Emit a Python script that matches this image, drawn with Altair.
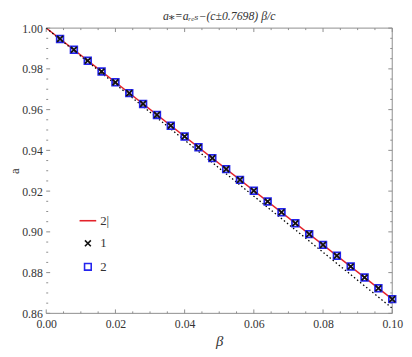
import altair as alt
import pandas as pd

# ---- data ----
beta_pts = [0.004, 0.008, 0.012, 0.016, 0.020, 0.024, 0.028, 0.032, 0.036, 0.040,
            0.044, 0.048, 0.052, 0.056, 0.060, 0.064, 0.068, 0.072, 0.076, 0.080,
            0.084, 0.088, 0.092, 0.096, 0.100]
a_pts = [0.9947, 0.9894, 0.9840, 0.9787, 0.9734, 0.9681, 0.9628, 0.9574, 0.9521, 0.9468,
         0.9415, 0.9362, 0.9308, 0.9255, 0.9202, 0.9149, 0.9096, 0.9042, 0.8989, 0.8936,
         0.8883, 0.8830, 0.8776, 0.8723, 0.8670]
beta_line = [0.0, 0.1]
a_red = [1.0, 0.867]
a_dot = [1.0, 0.8625]

x_major = [0.0, 0.02, 0.04, 0.06, 0.08, 0.10]
x_minor = [0.005, 0.01, 0.015, 0.025, 0.03, 0.035, 0.045, 0.05, 0.055,
           0.065, 0.07, 0.075, 0.085, 0.09, 0.095]
y_major = [0.86, 0.88, 0.90, 0.92, 0.94, 0.96, 0.98, 1.00]
y_minor = [0.865, 0.87, 0.875, 0.885, 0.89, 0.895, 0.905, 0.91, 0.915,
           0.925, 0.93, 0.935, 0.945, 0.95, 0.955, 0.965, 0.97, 0.975,
           0.985, 0.99, 0.995]

series_names = ["2|", "1", "2"]
series_colors = ["#e3222a", "#111111", "#2424ee"]
series_shapes = ["M-1.7,0L1.7,0",
                 "M-0.6,-0.6L0.6,0.6M-0.6,0.6L0.6,-0.6",
                 "M-0.68,-0.68H0.68V0.68H-0.68Z"]

W, H = 353, 291
FONT = "Liberation Serif, DejaVu Serif, serif"
FRAME = "#8c8c8c"

xs = alt.Scale(domain=[0, 0.1], nice=False, zero=False)
ys = alt.Scale(domain=[0.86, 1.0], nice=False, zero=False)

cscale = alt.Scale(domain=series_names, range=series_colors)
shscale = alt.Scale(domain=series_names, range=series_shapes)

leg = alt.Legend(orient="none", legendX=36, legendY=190, title=None,
                 labelFont=FONT, labelFontSize=13, labelColor="#333",
                 symbolStrokeWidth=1.6, symbolSize=100, rowPadding=9,
                 labelOffset=6, padding=0)

x_axis = alt.Axis(values=x_major, format=".2f", title="β", ticks=False, domain=False,
                  grid=False, labelFont=FONT, labelFontSize=12, labelColor="#333",
                  labelPadding=5, labelFlush=False, titleFont=FONT, titleFontStyle="italic",
                  titleFontSize=15, titleFontWeight="normal", titleColor="#333",
                  titlePadding=5)
y_axis = alt.Axis(values=y_major, format=".2f", title="a", ticks=False, domain=False,
                  grid=False, labelFont=FONT, labelFontSize=12, labelColor="#333",
                  labelPadding=4, labelFlush=False, titleFont=FONT, titleFontSize=13,
                  titleFontWeight="normal", titleColor="#333", titlePadding=0)

# ---- tables ----
line_df = pd.DataFrame({"beta": beta_line, "a": a_red, "s": series_names[0]})
dot_df = pd.DataFrame({"beta": beta_line, "a": a_dot})
pts_df = pd.concat([
    pd.DataFrame({"beta": beta_pts, "a": a_pts, "s": series_names[2]}),
    pd.DataFrame({"beta": beta_pts, "a": a_pts, "s": series_names[1]}),
], ignore_index=True)
one = pd.DataFrame({"k": [0]})

xmaj_df = pd.DataFrame({"v": x_major})
xmin_df = pd.DataFrame({"v": x_minor})
ymaj_df = pd.DataFrame({"v": y_major})
ymin_df = pd.DataFrame({"v": y_minor})

# ---- frame and inward ticks ----
top_line = alt.Chart(one).mark_rule(color=FRAME, strokeWidth=1).encode(
    x=alt.value(0), x2=alt.value(W), y=alt.value(0))
bottom_line = alt.Chart(one).mark_rule(color=FRAME, strokeWidth=1).encode(
    x=alt.value(0), x2=alt.value(W), y=alt.value(H))
right_line = alt.Chart(one).mark_rule(color=FRAME, strokeWidth=1).encode(
    x=alt.value(W), y=alt.value(0), y2=alt.value(H))


def xticks(df, length):
    b = alt.Chart(df).mark_rule(color=FRAME, strokeWidth=1).encode(
        x=alt.X("v:Q", scale=xs, axis=x_axis), y=alt.value(H), y2=alt.value(H - length))
    t = alt.Chart(df).mark_rule(color=FRAME, strokeWidth=1).encode(
        x=alt.X("v:Q", scale=xs, axis=x_axis), y=alt.value(0), y2=alt.value(length))
    return [b, t]


def yticks(df, length):
    l = alt.Chart(df).mark_rule(color=FRAME, strokeWidth=1).encode(
        y=alt.Y("v:Q", scale=ys, axis=y_axis), x=alt.value(0), x2=alt.value(length))
    r = alt.Chart(df).mark_rule(color=FRAME, strokeWidth=1).encode(
        y=alt.Y("v:Q", scale=ys, axis=y_axis), x=alt.value(W), x2=alt.value(W - length))
    return [l, r]


tick_layers = xticks(xmaj_df, 4) + xticks(xmin_df, 2) + yticks(ymaj_df, 4) + yticks(ymin_df, 2)

# ---- data layers ----
red = alt.Chart(line_df).mark_line(strokeWidth=1.5, clip=True).encode(
    x=alt.X("beta:Q", scale=xs, axis=x_axis),
    y=alt.Y("a:Q", scale=ys, axis=y_axis),
    color=alt.Color("s:N", scale=cscale, legend=leg),
)
dotted = alt.Chart(dot_df).mark_line(color="black", strokeWidth=1.3,
                                     strokeDash=[1.5, 2.5], clip=True).encode(
    x=alt.X("beta:Q", scale=xs, axis=x_axis),
    y=alt.Y("a:Q", scale=ys, axis=y_axis),
)
pts = alt.Chart(pts_df).mark_point(filled=False, strokeWidth=1.8, opacity=1, size=100).encode(
    x=alt.X("beta:Q", scale=xs, axis=x_axis),
    y=alt.Y("a:Q", scale=ys, axis=y_axis),
    color=alt.Color("s:N", scale=cscale, legend=leg),
    shape=alt.Shape("s:N", scale=shscale, legend=leg),
    order=alt.Order("s:N", sort="descending"),
)

chart = alt.layer(
    red, top_line, bottom_line, right_line, *tick_layers, dotted, pts
).properties(
    width=W, height=H,
    autosize=alt.AutoSizeParams(type="none"),
    padding={"left": 39, "top": 17, "right": 12, "bottom": 41},
    title=alt.TitleParams(text="a⁎=aᵣₑₛ−(c±0.7698) β/c", font=FONT, fontStyle="italic",
                          fontSize=12, fontWeight="normal", color="#333", offset=-1,
                          anchor="middle"),
).configure_view(stroke=None)

chart.save("out.html", embed_options={"renderer": "svg", "actions": False})
